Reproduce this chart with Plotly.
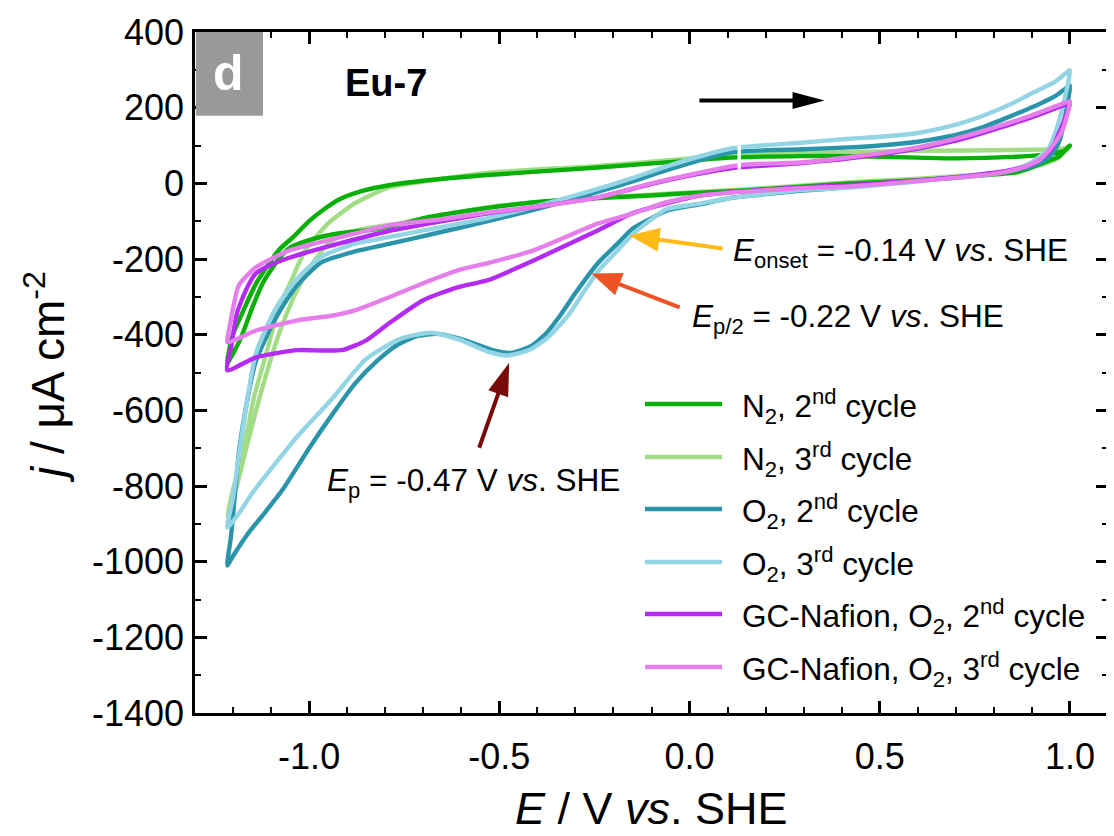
import math
import plotly.graph_objects as go

# ---------------- data (E / V vs. SHE, j / uA cm-2) ----------------
n2_c2_E = [-1.215, -1.203, -1.17, -1.139, -1.08, -1.04, -1.0, -0.96, -0.92, -0.86, -0.79, -0.65, -0.53, -0.24, 0.0,
           0.11, 0.29, 0.42, 0.6, 0.7, 0.85, 0.95, 0.985, 1.0,
           0.99, 0.97, 0.947, 0.9, 0.86, 0.77, 0.6, 0.42, 0.16, 0.0, -0.1, -0.3, -0.41, -0.53, -0.6, -0.7, -0.76,
           -0.83, -0.92, -1.0, -1.05, -1.08, -1.12, -1.15, -1.18, -1.2, -1.215]
n2_c2_j = [-475, -407, -330, -264, -177, -140, -100, -68, -42, -20, -5, 12, 22, 42, 60,
           68, 72, 72, 68, 66, 70, 78, 86, 100,
           90, 70, 61, 42, 29, 21, 8, 0, -18, -26, -32, -42, -50, -65, -75, -92, -108,
           -122, -132, -150, -170, -200, -260, -330, -410, -450, -475]

n2_c3_E = [-1.215, -1.2, -1.18, -1.145, -1.11, -1.08, -1.05, -1.01, -0.95, -0.88, -0.79, -0.65, -0.53, -0.24, 0.0,
           0.11, 0.29, 0.42, 0.6, 0.85, 0.95, 0.985, 1.0,
           0.99, 0.97, 0.95, 0.9, 0.86, 0.77, 0.6, 0.42, 0.16, 0.0, -0.3, -0.53, -0.76, -0.9, -0.95, -1.0, -1.04,
           -1.08, -1.12, -1.16, -1.19, -1.215]
n2_c3_j = [-880, -810, -740, -566, -440, -330, -264, -177, -106, -53, -11, 12, 28, 46, 66,
           76, 82, 83, 86, 88, 90, 93, 98,
           88, 68, 58, 42, 32, 24, 12, 3, -15, -24, -42, -63, -105, -130, -160, -225, -300,
           -400, -530, -680, -800, -880]

o2_c2_E = [-1.215, -1.205, -1.184, -1.16, -1.14, -1.09, -1.04, -0.97, -0.88, -0.79, -0.65, -0.53, -0.41, -0.3,
           -0.24, -0.15, -0.06, 0.11, 0.3, 0.42, 0.5, 0.6, 0.7, 0.77, 0.85, 0.9, 0.96, 0.99, 1.0,
           0.995, 0.985, 0.975, 0.96, 0.94, 0.9, 0.84, 0.77, 0.68, 0.42, 0.29, 0.1, 0.03, -0.06, -0.1, -0.15,
           -0.19, -0.24, -0.3, -0.342, -0.38, -0.42, -0.47, -0.52, -0.59, -0.66, -0.72, -0.77, -0.82, -0.88,
           -0.94, -1.0, -1.07, -1.12, -1.16, -1.2, -1.215]
o2_c2_j = [-1010, -930, -707, -560, -470, -360, -280, -210, -180, -160, -128, -100, -70, -40,
           -22, 5, 35, 82, 90, 95, 100, 110, 128, 148, 180, 201, 230, 252, 258,
           220, 165, 120, 88, 65, 45, 32, 22, 14, -10, -20, -40, -55, -72, -92, -120,
           -160, -210, -290, -352, -400, -432, -448, -440, -415, -398, -405, -428, -468, -530,
           -612, -700, -810, -875, -925, -985, -1010]

o2_c3_E = [-1.215, -1.2, -1.19, -1.17, -1.14, -1.09, -1.04, -0.97, -0.88, -0.79, -0.65, -0.53, -0.41, -0.3,
           -0.24, -0.15, -0.06, 0.11, 0.3, 0.42, 0.5, 0.6, 0.7, 0.77, 0.85, 0.9, 0.96, 0.99, 1.0,
           0.995, 0.985, 0.975, 0.966, 0.95, 0.94, 0.895, 0.84, 0.77, 0.68, 0.42, 0.29, 0.1, 0.03, -0.06, -0.1,
           -0.15, -0.19, -0.237, -0.28, -0.316, -0.37, -0.42, -0.48, -0.53, -0.6, -0.68, -0.76, -0.85, -0.94,
           -1.03, -1.1, -1.15, -1.19, -1.215]
o2_c3_j = [-910, -830, -760, -620, -450, -335, -262, -195, -160, -142, -115, -92, -62, -32,
           -14, 14, 45, 92, 108, 118, 123, 133, 155, 178, 212, 238, 268, 292, 299,
           265, 220, 180, 148, 105, 87, 53, 34, 21, 13, -11, -18, -40, -53, -68, -95,
           -135, -178, -228, -290, -345, -405, -440, -455, -445, -415, -395, -411, -464, -570,
           -668, -755, -820, -880, -910]

gc_c2_E = [-1.215, -1.205, -1.19, -1.165, -1.14, -1.1, -1.05, -0.92, -0.79, -0.65, -0.53, -0.41, -0.24, -0.06,
           0.11, 0.29, 0.42, 0.6, 0.7, 0.77, 0.85, 0.9, 0.98, 1.0,
           0.99, 0.97, 0.95, 0.9, 0.84, 0.77, 0.68, 0.42, 0.29, 0.03, -0.06, -0.15, -0.24, -0.41, -0.53, -0.61,
           -0.7, -0.79, -0.85, -0.91, -0.96, -1.03, -1.14, -1.215]
gc_c2_j = [-494, -434, -344, -280, -238, -215, -196, -159, -126, -100, -79, -63, -37, 8,
           40, 53, 66, 92, 113, 133, 158, 175, 205, 212,
           180, 130, 87, 50, 34, 24, 14, -5, -11, -32, -53, -79, -124, -204, -256, -275,
           -309, -370, -415, -440, -442, -441, -460, -494]

gc_c3_E = [-1.215, -1.21, -1.2, -1.185, -1.14, -1.05, -0.92, -0.79, -0.65, -0.53, -0.41, -0.24, -0.1, 0.13,
           0.29, 0.42, 0.6, 0.7, 0.77, 0.85, 0.9, 0.99, 1.0,
           0.995, 0.98, 0.955, 0.92, 0.87, 0.8, 0.68, 0.42, 0.29, 0.03, -0.06, -0.15, -0.24, -0.41, -0.53, -0.61,
           -0.7, -0.79, -0.88, -0.94, -1.03, -1.14, -1.215]
gc_c3_j = [-420, -385, -330, -270, -222, -177, -143, -111, -95, -77, -63, -37, 0, 48,
           55, 69, 95, 118, 138, 163, 180, 214, 216,
           190, 140, 100, 62, 40, 25, 13, -8, -13, -32, -50, -80, -106, -177, -211, -230,
           -264, -301, -336, -350, -362, -389, -420]

series_names = ["N<sub>2</sub>, 2<sup>nd</sup> cycle", "N<sub>2</sub>, 3<sup>rd</sup> cycle",
                "O<sub>2</sub>, 2<sup>nd</sup> cycle", "O<sub>2</sub>, 3<sup>rd</sup> cycle",
                "GC-Nafion, O<sub>2</sub>, 2<sup>nd</sup> cycle", "GC-Nafion, O<sub>2</sub>, 3<sup>rd</sup> cycle"]
series_colors = ["#07B007", "#A2DD86", "#2A94AB", "#94D5E5", "#B42BF4", "#E67FEB"]
series_E = [n2_c2_E, n2_c3_E, o2_c2_E, o2_c3_E, gc_c2_E, gc_c3_E]
series_j = [n2_c2_j, n2_c3_j, o2_c2_j, o2_c3_j, gc_c2_j, gc_c3_j]
draw_order = [1, 0, 2, 3, 4, 5]

x_tickvals = [-1.0, -0.5, 0.0, 0.5, 1.0]
x_ticktext = ["-1.0", "-0.5", "0.0", "0.5", "1.0"]
y_tickvals = [-1400, -1200, -1000, -800, -600, -400, -200, 0, 200, 400]
y_ticktext = ["-1400", "-1200", "-1000", "-800", "-600", "-400", "-200", "0", "200", "400"]

# ---------------- figure ----------------
# the html page places the figure 8 px from the top-left corner (body margin),
# so the figure is 8 px smaller and its margins are reduced by that amount.
FONT = "Arial, Liberation Sans, Helvetica, sans-serif"
OFF = 8
W, H = 1114 - OFF, 836 - OFF
ML, MR, MT, MB = 195 - OFF, 6, 32 - OFF, 123
XR = [-1.3, 1.1]
YR = [-1400, 400]
PW, PH = W - ML - MR, H - MT - MB
SX = PW / (XR[1] - XR[0])
SY = PH / (YR[1] - YR[0])
PLOT_LEFT, PLOT_BOTTOM = 195, 713  # page pixels

fig = go.Figure()
for i in draw_order:
    fig.add_trace(go.Scatter(x=series_E[i], y=series_j[i], mode="lines", name=series_names[i],
                             line=dict(color=series_colors[i], width=4.4, shape="spline", smoothing=0.6),
                             showlegend=False, hoverinfo="skip"))

shapes = []
annotations = []

# white break in the upper branches (as in the original figure)
shapes.append(dict(type="rect", xref="x", yref="y", x0=0.126, x1=0.135, y0=36, y1=112,
                   fillcolor="white", line=dict(width=0), layer="above"))


def arrow(x0, y0, x1, y1, color, head_len, head_w, lw=4):
    dxp, dyp = (x1 - x0) * SX, (y1 - y0) * SY
    L = math.hypot(dxp, dyp)
    ux, uy = dxp / L, dyp / L
    bx, by = x1 - ux * head_len / SX, y1 - uy * head_len / SY
    px, py = -uy, ux
    c1 = (bx + px * head_w / 2 / SX, by + py * head_w / 2 / SY)
    c2 = (bx - px * head_w / 2 / SX, by - py * head_w / 2 / SY)
    shapes.append(dict(type="line", xref="x", yref="y", x0=x0, y0=y0,
                       x1=bx + ux * 3 / SX, y1=by + uy * 3 / SY,
                       line=dict(color=color, width=lw), layer="above"))
    shapes.append(dict(type="path", xref="x", yref="y",
                       path=f"M{x1},{y1} L{c1[0]},{c1[1]} L{c2[0]},{c2[1]} Z",
                       fillcolor=color, line=dict(width=0), layer="above"))


arrow(0.026, 219, 0.355, 219, "black", 32, 17)
arrow(0.087, -172, -0.158, -138, "#FFBB14", 30, 24)
arrow(-0.026, -328, -0.258, -238, "#EE5326", 30, 24)
arrow(-0.553, -699, -0.474, -474, "#7A0A0A", 33, 21)

# panel label
shapes.append(dict(type="rect", xref="paper", yref="paper", x0=0.001, x1=0.0745, y0=0.877, y1=1.0,
                   fillcolor="#999999", line=dict(width=0), layer="above"))
annotations.append(dict(text="<b>d</b>", xref="paper", yref="paper", x=0.037, y=0.94, showarrow=False,
                        font=dict(family=FONT, size=50, color="white"), xanchor="center", yanchor="middle"))
annotations.append(dict(text="<b>Eu-7</b>", xref="paper", yref="paper", x=0.209, y=0.925, showarrow=False,
                        font=dict(family=FONT, size=38, color="black"), xanchor="center", yanchor="middle"))

# potential annotations
ann_font = dict(family=FONT, size=31.5, color="black")
annotations.append(dict(text="<i>E</i><sub>onset</sub> = -0.14 V <i>vs</i>. SHE", xref="x", yref="y",
                        x=0.108, y=-182, showarrow=False, font=ann_font, xanchor="left", yanchor="middle"))
annotations.append(dict(text="<i>E</i><sub>p/2</sub> = -0.22 V <i>vs</i>. SHE", xref="x", yref="y",
                        x=0.002, y=-356, showarrow=False, font=ann_font, xanchor="left", yanchor="middle"))
annotations.append(dict(text="<i>E</i><sub>p</sub> = -0.47 V <i>vs</i>. SHE", xref="x", yref="y",
                        x=-0.958, y=-790, showarrow=False, font=ann_font, xanchor="left", yanchor="middle"))

# manual legend
leg_y = [0.4537, 0.3759, 0.2996, 0.2217, 0.1454, 0.0675]
for k in range(6):
    shapes.append(dict(type="line", xref="paper", yref="paper", x0=0.4929, x1=0.5772, y0=leg_y[k], y1=leg_y[k],
                       line=dict(color=series_colors[k], width=4.5), layer="above"))
    annotations.append(dict(text=series_names[k], xref="paper", yref="paper", x=0.597, y=leg_y[k] - 0.004,
                            showarrow=False, font=ann_font, xanchor="left", yanchor="middle"))

# axis titles (positions given in page pixels relative to the plot area)
annotations.append(dict(text="<i>E</i> / V <i>vs</i>. SHE", xref="paper", yref="paper",
                        x=0.5, y=(PLOT_BOTTOM - 836) / PH, xanchor="center", yanchor="bottom", showarrow=False,
                        font=dict(family=FONT, size=45, color="black")))
annotations.append(dict(text="<i>j</i> / μA cm<sup>-2</sup>", xref="paper", yref="paper",
                        x=(45 - PLOT_LEFT) / PW, y=(PLOT_BOTTOM - 377) / PH, xanchor="center", yanchor="middle",
                        textangle=-90, showarrow=False, font=dict(family=FONT, size=46, color="black")))

axis_common = dict(showline=True, linewidth=2.5, linecolor="black", mirror="ticks", ticks="inside",
                   ticklen=12, tickwidth=2.5, tickcolor="black", showgrid=False, zeroline=False,
                   automargin=False, tickfont=dict(family=FONT, size=36, color="black"))

fig.update_layout(
    width=W, height=H, margin=dict(l=ML, r=MR, t=MT, b=MB, pad=0, autoexpand=False),
    plot_bgcolor="white", paper_bgcolor="white",
    xaxis=dict(range=XR, tickmode="array", tickvals=x_tickvals, ticktext=x_ticktext,
               minor=dict(dtick=0.1, tick0=0, ticks="inside", ticklen=6, tickwidth=2, tickcolor="black",
                          showgrid=False),
               ticklabelstandoff=10,
               **axis_common),
    yaxis=dict(range=YR, tickmode="array", tickvals=y_tickvals, ticktext=y_ticktext,
               minor=dict(dtick=100, tick0=0, ticks="inside", ticklen=6, tickwidth=2, tickcolor="black",
                          showgrid=False),
               ticklabelstandoff=1,
               **axis_common),
    shapes=shapes, annotations=annotations, showlegend=False,
)

fig.write_html("out.html")
